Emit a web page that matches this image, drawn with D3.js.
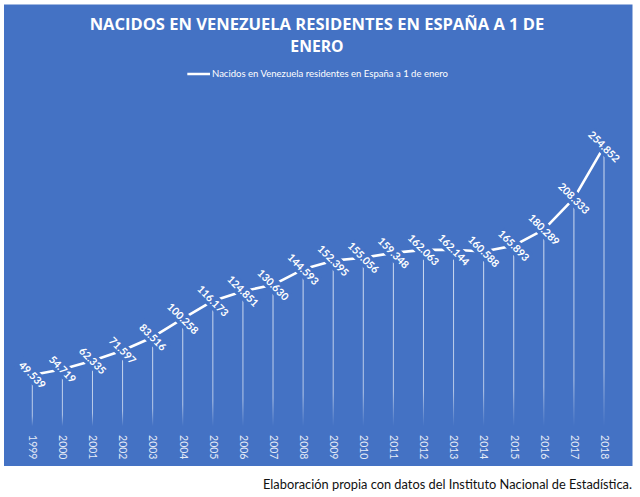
<!DOCTYPE html>
<html>
<head>
<meta charset="utf-8">
<script src="https://cdn.jsdelivr.net/npm/d3@7"></script>
<style>
  html, body { margin: 0; padding: 0; background: #ffffff; }
  svg { display: block; }
</style>
</head>
<body>
<svg id="chart" width="640" height="497"></svg>
<script>
const years = ["1999","2000","2001","2002","2003","2004","2005","2006","2007","2008",
               "2009","2010","2011","2012","2013","2014","2015","2016","2017","2018"];
const values = [49539, 54719, 62335, 71597, 83516, 100258, 116173, 124851, 130630, 144593,
                152395, 155056, 159348, 162063, 162144, 160588, 165893, 180289, 208333, 254852];
const titleLines = ["NACIDOS EN VENEZUELA RESIDENTES EN ESPAÑA A 1 DE", "ENERO"];
const seriesName = "Nacidos en Venezuela residentes en España a 1 de enero";
const sourceNote = "Elaboración propia con datos del Instituto Nacional de Estadística.";
const yDomain = [0, 300000];

const BG = "#4472C4";
const svg = d3.select("#chart");
const font = "Lato, 'Open Sans', 'Liberation Sans', sans-serif";
const titleFont = "'Open Sans', Lato, sans-serif";

const locale = d3.formatLocale({decimal: ",", thousands: ".", grouping: [3], currency: ["", "€"]});
const fmt = locale.format(",d");

// background panel
svg.append("rect").attr("x", 4).attr("y", 4.5).attr("width", 628.5).attr("height", 461.5)
  .attr("fill", BG);

const x = d3.scalePoint().domain(years).range([32.3, 604]);
const y = d3.scaleLinear().domain(yDomain).range([430.1, 96.5]);

// gradient for drop lines
const defs = svg.append("defs");
const grad = defs.append("linearGradient").attr("id", "dropGrad")
  .attr("x1", 0).attr("y1", 0).attr("x2", 0).attr("y2", 1);
grad.append("stop").attr("offset", "0%").attr("stop-color", "#ffffff").attr("stop-opacity", 0.75);
grad.append("stop").attr("offset", "80%").attr("stop-color", "#ffffff").attr("stop-opacity", 0.6);
grad.append("stop").attr("offset", "100%").attr("stop-color", "#ffffff").attr("stop-opacity", 0);

const data = years.map((yr, i) => ({year: yr, value: values[i]}));

// title
svg.selectAll("text.title").data(titleLines).join("text")
  .attr("class", "title")
  .attr("x", 317)
  .attr("y", (d, i) => i === 0 ? 30 : 51.7)
  .attr("text-anchor", "middle")
  .attr("font-family", titleFont)
  .attr("font-weight", "bold")
  .attr("font-size", 15.5)
  .attr("fill", "#ffffff")
  .attr("textLength", (d, i) => i === 0 ? 454.7 : 53.3)
  .attr("lengthAdjust", "spacingAndGlyphs")
  .text(d => d);

// legend
svg.append("line").attr("x1", 187.3).attr("x2", 210).attr("y1", 74).attr("y2", 74)
  .attr("stroke", "#ffffff").attr("stroke-width", 2.5);
svg.append("text").attr("x", 212).attr("y", 76.5)
  .attr("font-family", font).attr("font-size", 9.5).attr("fill", "#ffffff")
  .attr("textLength", 236).attr("lengthAdjust", "spacingAndGlyphs")
  .text(seriesName);

// drop lines
svg.append("g").selectAll("rect").data(data).join("rect")
  .attr("x", d => x(d.year) - 0.5)
  .attr("y", d => y(d.value))
  .attr("width", 1)
  .attr("height", d => y(0) - y(d.value) - 4)
  .attr("fill", "url(#dropGrad)");

// line
const line = d3.line().x(d => x(d.year)).y(d => y(d.value));
svg.append("path").datum(data).attr("d", line)
  .attr("fill", "none").attr("stroke", "#ffffff").attr("stroke-width", 2.6)
  .attr("stroke-linejoin", "round");

// data labels (rotated 45°, with background fill)
const lbl = svg.append("g").selectAll("g").data(data).join("g")
  .attr("transform", d => `translate(${x(d.year)},${y(d.value)}) rotate(45)`);
lbl.append("rect").attr("x", -19).attr("y", -7).attr("width", 38).attr("height", 14)
  .attr("fill", BG);
lbl.append("text")
  .attr("text-anchor", "middle").attr("dy", "0.35em")
  .attr("font-family", font).attr("font-weight", "bold").attr("font-size", 10.5)
  .attr("fill", "#ffffff")
  .text(d => fmt(d.value));

// x axis labels (rotated 90°)
const xAxis = d3.axisBottom(x).tickSize(0).tickPadding(0);
const gx = svg.append("g").attr("transform", `translate(0,${y(0)})`).call(xAxis);
gx.select(".domain").remove();
gx.selectAll(".tick text")
  .attr("transform", "translate(0,5) rotate(90)")
  .attr("x", 0).attr("y", 0).attr("dy", "0.35em")
  .attr("text-anchor", "start")
  .attr("font-family", font).attr("font-size", 10.5)
  .attr("fill", "#e4ebf7");

// source note
svg.append("text").attr("x", 632).attr("y", 489)
  .attr("text-anchor", "end")
  .attr("font-family", font).attr("font-size", 12.5).attr("fill", "#111111")
  .attr("textLength", 369).attr("lengthAdjust", "spacingAndGlyphs")
  .text(sourceNote);
</script>
</body>
</html>
